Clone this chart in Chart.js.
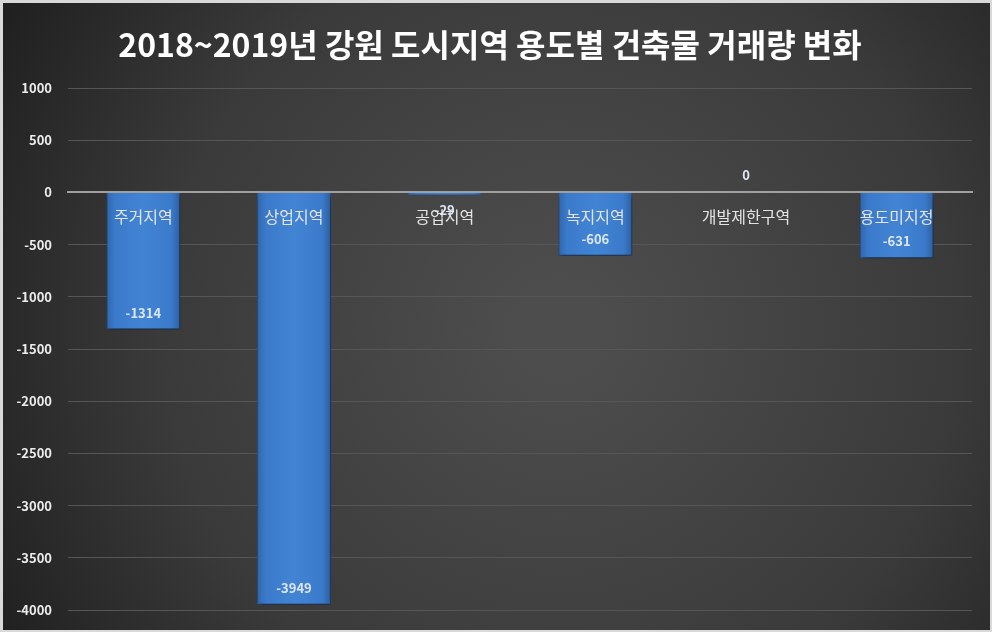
<!DOCTYPE html>
<html>
<head>
<meta charset="utf-8">
<script src="https://cdn.jsdelivr.net/npm/chart.js@4"></script>
<style>
  html, body { margin: 0; padding: 0; background: #ffffff; }
  #wrap { position: relative; width: 992px; height: 637px; }
</style>
</head>
<body>
<div id="wrap"><canvas id="chart"></canvas></div>
<script>
 // data
 const categories = ['주거지역', '상업지역', '공업지역', '녹지지역', '개발제한구역', '용도미지정'];
 const changeValues = [-1314, -3949, -29, -606, 0, -631];
 const yTicks = [1000, 500, 0, -500, -1000, -1500, -2000, -2500, -3000, -3500, -4000];

 const KR = '"Noto Sans CJK KR", "Noto Sans", sans-serif';

 // dark radial background, drawn behind everything
 const bgPlugin = {
     id: 'bg',
     beforeDraw(chart) {
         const c = chart.ctx;
         c.save();
         c.fillStyle = '#d9d9d9';
         c.fillRect(0, 0, 992, 632);
         const g = c.createRadialGradient(560, 330, 40, 560, 330, 640);
         g.addColorStop(0, '#4d4d4d');
         g.addColorStop(0.6, '#3a3a3a');
         g.addColorStop(1, '#202020');
         c.fillStyle = g;
         c.fillRect(3, 3, 987, 627);
         c.restore();
     }
 };

 // soft shadow under the bars
 const shadowPlugin = {
     id: 'barShadow',
     beforeDatasetsDraw(chart) {
         const c = chart.ctx;
         c.save();
         c.shadowColor = 'rgba(0,0,0,0.55)';
         c.shadowBlur = 6;
         c.shadowOffsetX = 2;
         c.shadowOffsetY = 3;
     },
     afterDatasetsDraw(chart) {
         chart.ctx.restore();
     }
 };

 // value labels, "inside end" like the original
 const valueLabels = {
     id: 'valueLabels',
     afterDraw(chart) {
         const c = chart.ctx;
         const meta = chart.getDatasetMeta(0);
         c.save();
         c.font = 'bold 13px ' + KR;
         c.fillStyle = '#dde7f4';
         c.textAlign = 'center';
         c.textBaseline = 'middle';
         meta.data.forEach((bar, i) => {
             const v = changeValues[i];
             const len = Math.abs(bar.y - bar.base);
             let y = bar.y - 17;
             if (v < 0 && len < 34) y = bar.y + 15;
             c.fillText(String(v), bar.x, y);
         });
         c.restore();
     }
 };

 function barFill(context) {
     const chart = context.chart;
     if (!chart.chartArea || !chart.scales.x) return '#3d7cc9';
     const x = chart.scales.x.getPixelForValue(context.dataIndex);
     const half = 37;
     const g = chart.ctx.createLinearGradient(x - half, 0, x + half, 0);
     g.addColorStop(0, '#2f66ad');
     g.addColorStop(0.12, '#3b7acb');
     g.addColorStop(0.5, '#4284d4');
     g.addColorStop(0.88, '#3b7acb');
     g.addColorStop(1, '#2c5f9f');
     return g;
 }

 const ctx = document.getElementById('chart').getContext('2d');
 new Chart(ctx, {
     type: 'bar',
     data: {
         labels: categories,
         datasets: [{
             data: changeValues,
             backgroundColor: barFill,
             borderColor: '#2b5a96',
             borderWidth: 1,
             barPercentage: 0.49,
             categoryPercentage: 1
         }]
     },
     options: {
         responsive: true,
         maintainAspectRatio: false,
         animation: false,
         layout: {
             padding: { left: 8, right: 20, top: 0, bottom: 27 }
         },
         plugins: {
             legend: { display: false },
             tooltip: { enabled: false },
             title: {
                 display: true,
                 text: '2018~2019년 강원 도시지역 용도별 건축물 거래량 변화',
                 color: '#ffffff',
                 font: { family: KR, size: 32, weight: 'bold', lineHeight: 1.2 },
                 padding: { top: 26, bottom: 23.6 }
             }
         },
         scales: {
             x: {
                 position: { y: 0 },
                 grid: { display: false, drawTicks: false },
                 border: { display: true, color: '#a0a0a0', width: 2, z: 1 },
                 ticks: {
                     z: 1,
                     color: '#e4e4e4',
                     padding: 15,
                     font: { family: KR, size: 16 },
                     maxRotation: 0,
                     autoSkip: false
                 }
             },
             y: {
                 min: -4000,
                 max: 1000,
                 afterBuildTicks(scale) {
                     scale.ticks = yTicks.map(v => ({ value: v }));
                 },
                 afterFit(scale) {
                     scale.width = 60;
                 },
                 grid: { color: '#565656', lineWidth: 1, drawTicks: false },
                 border: { display: false },
                 ticks: {
                     color: '#ececec',
                     padding: 16,
                     font: { family: KR, size: 13, weight: 'bold' },
                     callback: v => String(v)
                 }
             }
         }
     },
     plugins: [bgPlugin, shadowPlugin, valueLabels]
 });
</script>
</body>
</html>
